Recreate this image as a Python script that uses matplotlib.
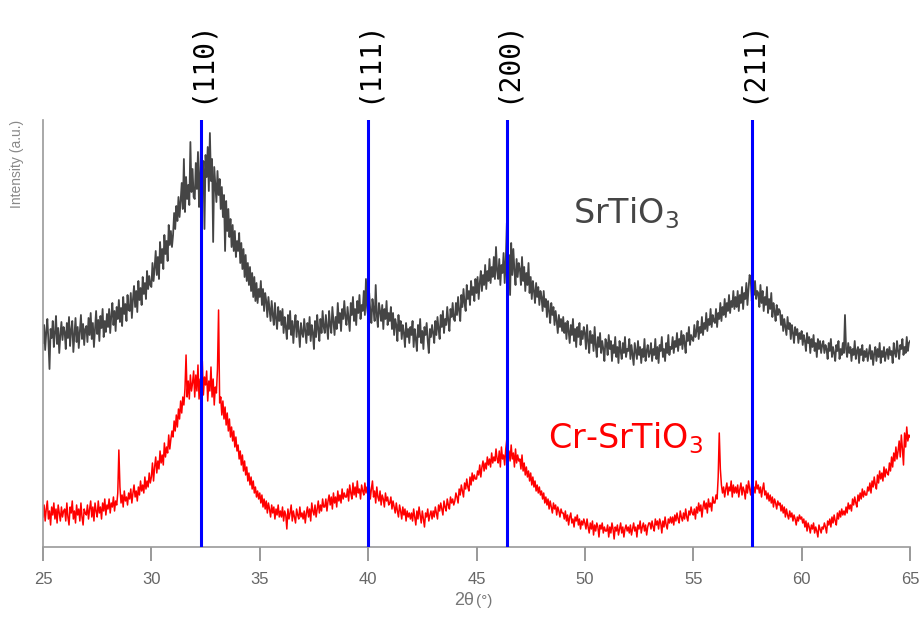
import numpy as np
import matplotlib
matplotlib.use("Agg")
import matplotlib.pyplot as plt

# Scan range and step (2-theta, degrees)
scan_start, scan_end, scan_step = 25.0, 65.0, 0.05

# SrTiO3 intensity (a.u.), one row per degree
srtio3 = [
    204, 222, 197, 215, 228, 206, 178, 218, 209, 226, 200, 214, 231, 203, 219, 194, 212, 225, 207, 220,   # 25
    215, 198, 224, 209, 230, 201, 217, 226, 195, 212, 229, 205, 220, 199, 216, 232, 208, 223, 202, 218,   # 26
    221, 205, 229, 212, 234, 208, 224, 200, 218, 236, 213, 227, 206, 231, 219, 238, 210, 226, 215, 233,   # 27
    220, 238, 214, 231, 244, 222, 236, 216, 240, 228, 247, 225, 239, 221, 250, 233, 243, 226, 252, 237,   # 28
    236, 254, 229, 248, 261, 240, 256, 235, 266, 247, 259, 242, 270, 253, 264, 248, 276, 258, 271, 262,   # 29
    260, 284, 266, 279, 296, 272, 290, 268, 305, 284, 298, 278, 312, 293, 306, 286, 322, 302, 316, 300,   # 30
    312, 334, 318, 341, 326, 350, 330, 346, 364, 338, 388, 335, 370, 348, 362, 342, 405, 355, 378, 350,   # 31
    348, 384, 358, 395, 340, 372, 410, 362, 386, 318, 392, 370, 400, 356, 414, 366, 388, 305, 380, 362,   # 32
    345, 376, 352, 368, 338, 360, 330, 352, 296, 346, 316, 338, 310, 328, 300, 322, 296, 316, 290, 306,   # 33
    296, 314, 284, 304, 278, 298, 270, 292, 266, 284, 262, 280, 256, 274, 250, 270, 246, 264, 244, 258,   # 34
    250, 266, 242, 258, 236, 254, 246, 230, 250, 238, 226, 246, 232, 222, 244, 228, 218, 240, 226, 236,   # 35
    222, 238, 214, 230, 220, 208, 232, 218, 236, 212, 226, 204, 222, 232, 210, 226, 216, 200, 224, 214,   # 36
    210, 228, 216, 204, 224, 212, 230, 206, 222, 214, 198, 226, 210, 232, 218, 206, 228, 214, 236, 220,   # 37
    214, 232, 220, 208, 236, 222, 214, 240, 226, 212, 230, 218, 244, 224, 234, 216, 238, 228, 246, 230,   # 38
    222, 240, 228, 216, 244, 232, 250, 226, 238, 222, 246, 234, 252, 228, 242, 236, 256, 232, 268, 240,   # 39
    230, 254, 236, 224, 248, 238, 226, 262, 232, 220, 244, 236, 226, 242, 218, 238, 228, 246, 222, 234,   # 40
    226, 240, 218, 234, 212, 228, 222, 206, 232, 216, 226, 208, 222, 214, 200, 224, 210, 218, 204, 220,   # 41
    212, 226, 200, 218, 208, 196, 222, 210, 228, 204, 216, 198, 220, 212, 224, 206, 194, 218, 210, 222,   # 42
    214, 204, 226, 212, 230, 218, 208, 232, 220, 236, 214, 228, 222, 240, 226, 216, 238, 230, 244, 228,   # 43
    226, 244, 232, 250, 236, 226, 252, 240, 258, 244, 236, 262, 248, 256, 242, 266, 252, 260, 246, 268,   # 44
    254, 270, 248, 264, 276, 256, 272, 262, 282, 258, 276, 266, 288, 264, 280, 270, 290, 268, 300, 276,   # 45
    268, 288, 262, 282, 274, 294, 264, 286, 324, 278, 292, 252, 304, 272, 298, 276, 262, 288, 270, 284,   # 46
    278, 262, 290, 266, 280, 256, 274, 262, 284, 254, 270, 248, 266, 256, 244, 264, 250, 260, 242, 256,   # 47
    250, 236, 256, 240, 248, 230, 246, 236, 224, 244, 232, 240, 222, 236, 226, 214, 232, 220, 228, 216,   # 48
    230, 214, 224, 208, 226, 216, 204, 222, 212, 228, 206, 218, 200, 220, 210, 224, 202, 216, 208, 220,   # 49
    214, 198, 222, 206, 194, 216, 204, 212, 196, 220, 202, 190, 210, 200, 214, 194, 206, 198, 186, 208,   # 50
    204, 192, 212, 198, 206, 186, 202, 194, 210, 190, 200, 184, 206, 196, 188, 204, 194, 210, 190, 198,   # 51
    196, 208, 188, 202, 192, 182, 204, 196, 188, 206, 192, 200, 184, 198, 190, 208, 186, 196, 202, 190,   # 52
    194, 204, 186, 198, 192, 208, 188, 200, 184, 202, 196, 210, 190, 198, 186, 204, 194, 212, 192, 200,   # 53
    198, 210, 194, 206, 200, 214, 196, 208, 202, 216, 198, 212, 204, 194, 214, 206, 220, 202, 212, 208,   # 54
    206, 222, 210, 216, 226, 208, 220, 214, 230, 212, 224, 218, 234, 216, 228, 222, 238, 220, 232, 226,   # 55
    224, 238, 220, 234, 228, 244, 226, 240, 232, 248, 230, 244, 236, 252, 234, 246, 240, 256, 238, 250,   # 56
    240, 256, 236, 252, 244, 260, 238, 254, 248, 264, 242, 258, 272, 268, 246, 260, 252, 266, 248, 256,   # 57
    254, 240, 262, 244, 256, 236, 250, 242, 260, 234, 248, 238, 254, 230, 244, 236, 226, 242, 232, 238,   # 58
    236, 222, 232, 216, 228, 220, 212, 230, 218, 224, 208, 222, 214, 204, 220, 212, 218, 204, 214, 208,   # 59
    216, 202, 212, 206, 196, 214, 204, 210, 194, 208, 200, 212, 196, 204, 190, 208, 198, 206, 194, 202,   # 60
    206, 194, 202, 198, 188, 204, 196, 208, 190, 200, 194, 186, 202, 196, 206, 188, 198, 192, 204, 194,   # 61
    232, 198, 190, 204, 194, 200, 186, 198, 192, 206, 188, 196, 200, 184, 198, 192, 202, 186, 196, 190,   # 62
    198, 186, 194, 202, 188, 196, 182, 194, 200, 186, 198, 190, 204, 184, 196, 190, 200, 186, 194, 198,   # 63
    188, 200, 192, 196, 184, 204, 194, 190, 206, 196, 188, 202, 198, 208, 192, 200, 194, 210, 196, 204,   # 64
    206,                                                                                                  # 65
]

# Cr-doped SrTiO3 intensity (a.u.)
cr_srtio3 = [
    30, 42, 26, 38, 46, 28, 36, 22, 40, 32, 44, 28, 38, 24, 42, 34, 26, 40, 30, 36,                     # 25
    38, 26, 44, 30, 22, 40, 34, 46, 28, 36, 24, 42, 32, 38, 26, 44, 30, 22, 38, 34,                     # 26
    32, 42, 28, 38, 46, 30, 40, 26, 44, 36, 30, 46, 34, 40, 28, 44, 36, 48, 32, 42,                     # 27
    38, 48, 34, 44, 40, 50, 36, 46, 42, 54, 97, 60, 44, 52, 40, 56, 46, 50, 42, 54,                     # 28
    48, 58, 44, 54, 62, 50, 56, 46, 60, 52, 66, 56, 62, 54, 70, 58, 66, 60, 74, 64,                     # 29
    70, 84, 66, 80, 90, 74, 86, 78, 96, 84, 92, 82, 104, 90, 100, 94, 112, 98, 108, 116,                # 30
    110, 126, 116, 132, 120, 138, 128, 146, 134, 150, 142, 158, 192, 150, 166, 148, 172, 156, 164, 176, # 31
    150, 172, 156, 182, 148, 168, 158, 186, 152, 170, 162, 176, 146, 166, 156, 180, 150, 168, 142, 160, # 32
    154, 178, 237, 144, 150, 132, 146, 128, 140, 122, 134, 116, 128, 110, 120, 106, 116, 100, 110, 96,  # 33
    102, 88, 96, 82, 92, 76, 86, 72, 80, 66, 74, 62, 70, 58, 66, 54, 60, 50, 56, 48,                    # 34
    54, 44, 52, 40, 48, 38, 46, 34, 44, 38, 30, 42, 34, 40, 28, 38, 32, 42, 30, 36,                     # 35
    30, 40, 26, 36, 32, 18, 38, 28, 34, 42, 26, 36, 30, 24, 38, 32, 28, 40, 30, 34,                     # 36
    28, 36, 24, 34, 40, 30, 38, 26, 44, 36, 32, 42, 30, 38, 46, 34, 42, 36, 48, 40,                     # 37
    40, 48, 36, 46, 52, 42, 50, 38, 54, 44, 50, 40, 56, 46, 52, 44, 58, 48, 54, 50,                     # 38
    50, 58, 46, 62, 54, 48, 64, 52, 60, 50, 66, 54, 58, 48, 62, 56, 52, 64, 54, 60,                     # 39
    52, 62, 48, 58, 66, 50, 56, 44, 60, 50, 46, 56, 42, 52, 48, 40, 54, 46, 50, 42,                     # 40
    44, 50, 38, 46, 40, 34, 44, 36, 30, 42, 36, 28, 40, 32, 38, 26, 36, 30, 34, 28,                     # 41
    34, 26, 38, 30, 22, 36, 28, 40, 32, 24, 36, 28, 20, 34, 30, 38, 26, 32, 36, 28,                     # 42
    36, 30, 40, 34, 28, 42, 36, 44, 38, 32, 46, 40, 36, 48, 42, 38, 50, 44, 48, 42,                     # 43
    46, 54, 50, 44, 58, 52, 62, 56, 50, 64, 58, 68, 60, 56, 70, 62, 74, 66, 72, 68,                     # 44
    68, 76, 72, 82, 70, 80, 86, 76, 84, 78, 90, 82, 88, 80, 94, 84, 90, 86, 98, 88,                     # 45
    84, 96, 80, 100, 88, 92, 82, 98, 108, 90, 96, 86, 102, 88, 94, 80, 98, 84, 92, 86,                  # 46
    88, 78, 92, 76, 84, 72, 80, 70, 76, 66, 74, 62, 70, 60, 66, 56, 62, 54, 60, 52,                     # 47
    56, 48, 54, 44, 50, 42, 48, 38, 46, 40, 34, 44, 38, 42, 32, 40, 36, 30, 38, 34,                     # 48
    34, 28, 36, 26, 32, 22, 30, 34, 24, 28, 20, 30, 26, 32, 22, 28, 18, 26, 22, 28,                     # 49
    24, 18, 28, 20, 14, 24, 18, 26, 12, 22, 16, 24, 20, 10, 22, 18, 24, 14, 20, 16,                     # 50
    16, 22, 10, 20, 14, 24, 18, 8, 20, 16, 22, 12, 18, 24, 14, 20, 10, 18, 22, 16,                      # 51
    20, 14, 22, 12, 18, 24, 16, 20, 10, 22, 18, 26, 14, 20, 24, 16, 22, 12, 20, 24,                     # 52
    24, 18, 26, 20, 16, 28, 22, 26, 18, 28, 24, 14, 26, 20, 30, 22, 18, 28, 24, 30,                     # 53
    24, 30, 22, 32, 26, 34, 28, 24, 36, 30, 26, 34, 28, 38, 30, 26, 36, 32, 40, 34,                     # 54
    32, 38, 28, 40, 34, 44, 36, 42, 30, 40, 46, 38, 44, 34, 48, 40, 44, 36, 50, 44,                     # 55
    44, 52, 48, 70, 114, 78, 62, 54, 60, 50, 58, 64, 52, 60, 56, 66, 50, 62, 54, 60,                    # 56
    54, 62, 50, 58, 64, 52, 60, 56, 48, 62, 54, 66, 58, 52, 64, 56, 60, 54, 66, 58,                     # 57
    62, 54, 60, 50, 58, 64, 52, 56, 48, 54, 46, 52, 44, 50, 40, 48, 44, 38, 46, 42,                     # 58
    44, 36, 42, 34, 40, 30, 38, 32, 28, 36, 30, 34, 26, 32, 28, 22, 30, 26, 32, 28,                     # 59
    30, 24, 28, 20, 26, 16, 24, 20, 14, 22, 18, 24, 14, 20, 16, 10, 22, 18, 14, 20,                     # 60
    18, 24, 20, 14, 26, 22, 28, 20, 30, 24, 32, 26, 22, 34, 28, 36, 30, 38, 32, 36,                     # 61
    32, 40, 34, 44, 38, 42, 36, 48, 42, 50, 44, 40, 52, 46, 54, 48, 58, 50, 56, 52,                     # 62
    52, 60, 56, 64, 54, 66, 60, 70, 62, 58, 72, 64, 76, 68, 74, 66, 80, 70, 78, 74,                     # 63
    72, 84, 76, 90, 80, 94, 86, 100, 88, 96, 106, 90, 112, 98, 82, 114, 100, 120, 106, 112,             # 64
    110,                                                                                                # 65
]

# Reference reflections of cubic SrTiO3
hkl_positions = [32.3, 40.0, 46.4, 57.7]
hkl_labels = ["(110)", "(111)", "(200)", "(211)"]

x_ticks = [25, 30, 35, 40, 45, 50, 55, 60, 65]

two_theta_a = np.linspace(scan_start, scan_end, len(srtio3))
two_theta_b = np.linspace(scan_start, scan_end, len(cr_srtio3))

fig = plt.figure(figsize=(9.2, 6.17), dpi=100)
ax = fig.add_axes([43 / 920, 70 / 617, 867 / 920, 427 / 617])

ax.plot(two_theta_a, srtio3, color="#454545", lw=1.3)
ax.plot(two_theta_b, cr_srtio3, color="#ff0000", lw=1.1)

for pos in hkl_positions:
    ax.axvline(pos, color="#0000ff", lw=2.2, zorder=3)

for pos, lab in zip(hkl_positions, hkl_labels):
    ax.annotate(lab, xy=(pos, 514 / 617), xycoords=("data", "figure fraction"),
                rotation=90, ha="center", va="bottom", fontsize=20,
                family="DejaVu Sans Mono", color="black", annotation_clip=False)

ax.annotate("SrTiO$_3$", xy=(626 / 920, (617 - 213) / 617), xycoords="figure fraction",
            ha="center", va="center", fontsize=24, color="#454545")
ax.annotate("Cr-SrTiO$_3$", xy=(626 / 920, (617 - 438) / 617), xycoords="figure fraction",
            ha="center", va="center", fontsize=24, color="#ff0000")

ax.set_xlim(scan_start, scan_end)
ax.set_ylim(0, 427)
ax.set_xticks(x_ticks)
ax.set_yticks([])

for side in ("top", "right"):
    ax.spines[side].set_visible(False)
for side in ("left", "bottom"):
    ax.spines[side].set_color("#999999")
    ax.spines[side].set_linewidth(1.2)

ax.tick_params(axis="x", direction="out", length=10, width=1.2, color="#888888",
               labelsize=12, labelcolor="#666666", pad=8)
for t in ax.get_xticklabels():
    t.set_family("Liberation Sans")

ax.set_ylabel("Intensity (a.u.)", loc="top", fontsize=10, color="#888888",
              family="Liberation Sans", labelpad=14)

fig.text(474 / 920, 12 / 617, "2θ", ha="right", va="baseline", fontsize=13,
         color="#777777", family="Liberation Sans")
fig.text(476 / 920, 12 / 617, "(°)", ha="left", va="baseline", fontsize=11,
         color="#777777", family="Liberation Sans")

fig.savefig("out.png", dpi=100)
